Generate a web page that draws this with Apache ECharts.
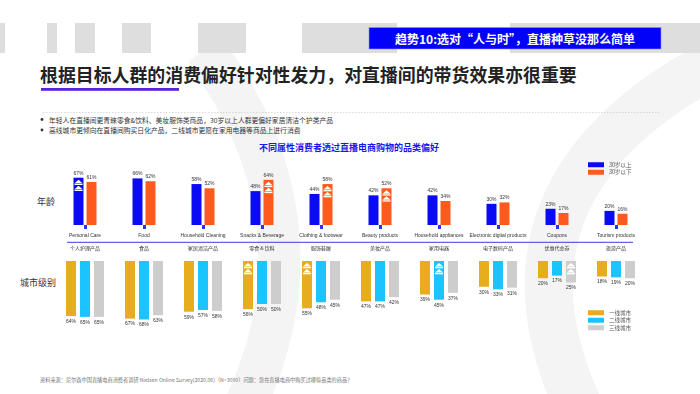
<!DOCTYPE html>
<html><head><meta charset="utf-8">
<script src="https://cdn.jsdelivr.net/npm/echarts@6/dist/echarts.min.js"></script>
<style>
html,body{margin:0;padding:0;width:700px;height:394px;overflow:hidden;background:#fff;font-family:"Noto Sans CJK SC","Noto Sans",sans-serif;}
#bg{position:absolute;left:0;top:0;}
#chart{position:absolute;left:0;top:0;width:700px;height:394px;}
.t{position:absolute;white-space:nowrap;}
</style></head><body>
<svg id="bg" width="700" height="394" xmlns="http://www.w3.org/2000/svg">
  <path d="M 205 50 Q 335 230 238 420" stroke="#f4f4f4" stroke-width="42" fill="none"/>
  <path d="M 720 60 Q 470 190 585 420" stroke="#f4f4f4" stroke-width="48" fill="none"/>
  <g fill="#dedede">
    <rect x="0" y="23" width="5" height="30"/>
    <rect x="47" y="23" width="10" height="30"/>
    <rect x="75" y="23" width="20" height="30"/>
    <rect x="122" y="23" width="29" height="30"/>
    <rect x="198" y="23" width="48" height="30"/>
    <rect x="302" y="23" width="95" height="30"/>
    <rect x="510" y="23" width="190" height="30"/>
  </g>
  <rect x="369" y="27.5" width="292" height="21.5" fill="#0202f8" stroke="#8f8ff0" stroke-width="0.6"/>
  <rect x="41" y="88" width="138" height="2.8" fill="#5a22e2"/>
  <line x1="43" y1="112.5" x2="660" y2="112.5" stroke="#cfcfcf" stroke-width="0.8" stroke-dasharray="1.5,1.5"/>
  <circle cx="42" cy="119.5" r="1.4" fill="#333"/>
  <circle cx="42" cy="130" r="1.4" fill="#333"/>
  <line x1="67" y1="242.3" x2="633" y2="242.3" stroke="#3a3af2" stroke-width="1"/>
</svg>
<div class="t" style="left:369px;top:27.5px;width:292px;height:21.5px;line-height:21.5px;text-align:center;color:#fff;font-weight:bold;font-size:12px;">趋势10:选对“人与时”，直播种草没那么简单</div>
<div class="t" style="left:40px;top:63.5px;font-size:17.9px;line-height:20px;font-weight:bold;color:#222;">根据目标人群的消费偏好针对性发力，对直播间的带货效果亦很重要</div>
<div class="t" style="left:49px;top:115.5px;font-size:6.8px;line-height:8px;color:#333;">年轻人在直播间更青睐零食&amp;饮料、美妆服饰类商品，30岁以上人群更偏好家居清洁个护类产品</div>
<div class="t" style="left:49px;top:126px;font-size:6.8px;line-height:8px;color:#333;">高线城市更倾向在直播间购买日化产品，二线城市更愿在家用电器等商品上进行消费</div>
<div class="t" style="left:250px;top:143px;width:198px;text-align:center;font-size:9px;line-height:10px;font-weight:bold;color:#1717f2;">不同属性消费者透过直播电商购物的品类偏好</div>
<div class="t" style="left:37px;top:196.5px;font-size:9px;line-height:10px;color:#333;">年龄</div>
<div class="t" style="left:20px;top:278px;font-size:9px;line-height:10px;color:#333;">城市级别</div>
<div class="t" style="left:40px;top:377px;font-size:5.2px;line-height:6px;color:#777;">资料来源：尼尔森中国直播电商消费者调研 Nielsen Online Survey(2020.06)（N=3000）问题：您在直播电商中购买过哪些品类的商品？</div>
<div id="chart"></div>
<script>
const categoriesEn = ['Personal Care','Food','Household Cleaning','Snacks & Beverage','Clothing & footwear','Beauty products','Household appliances','Electronic digital products','Coupons','Tourism products'];
const categoriesZh = ['个人护理产品','食品','家居清洁产品','零食 & 饮料','服饰鞋履','美妆产品','家用电器','电子数码产品','优惠代金券','旅游产品'];
const ageNames = ['30岁以上','30岁以下'];
const ageOver30 = [67,66,58,48,44,42,42,30,23,20];
const ageUnder30 = [61,62,52,64,58,52,34,32,17,16];
const tierNames = ['一线城市','二线城市','三线城市'];
const tier1 = [64,67,59,56,55,47,39,30,20,18];
const tier2 = [65,68,57,50,48,47,45,33,17,19];
const tier3 = [65,63,58,50,45,42,37,31,25,20];
// highlighted bars: [categoryIndex, seriesIndex]
const hlAge = [[0,0],[3,1],[4,1],[5,1]];
const hlTier = [[3,0],[4,0],[6,1],[8,2]];

const ageSeries = [ageOver30, ageUnder30];
const tierSeries = [tier1, tier2, tier3];
const ageColors = ['#0a0af5','#ff5a1e'];
const tierColors = ['#e7ad1f','#1cc4ff','#cdcdcd'];
const BW = 10;

function iconRender(n, gapPx, fromZero) {
  return function (params, api) {
    const cat = api.value(0), val = api.value(1), s = api.value(2);
    const p = api.coord([cat, fromZero ? 0 : val]);
    const cx = p[0] + (s - (n - 1) / 2) * (BW + gapPx);
    const y0 = p[1] + 2;
    const children = [];
    [0, 6].forEach(function (dy) {
      const y = y0 + dy;
      children.push({type: 'polygon', shape: {points: [[cx - 4, y + 3.5], [cx, y], [cx + 4, y + 3.5]]}, style: {fill: '#fff'}});
      children.push({type: 'rect', shape: {x: cx - 4, y: y + 4, width: 8, height: 1.3}, style: {fill: '#fff'}});
    });
    return {type: 'group', children: children};
  };
}

const labelFont = {fontSize: 5, color: '#333', fontFamily: 'Liberation Sans, Arial, sans-serif'};

const series = [];
ageSeries.forEach(function (d, i) {
  series.push({
    type: 'bar', name: ageNames[i], xAxisIndex: 0, yAxisIndex: 0, data: d,
    barWidth: BW, barGap: '30%', itemStyle: {color: ageColors[i]},
    label: Object.assign({show: true, position: 'top', distance: 2, formatter: '{c}%'}, labelFont)
  });
});
tierSeries.forEach(function (d, i) {
  series.push({
    type: 'bar', name: tierNames[i], xAxisIndex: 1, yAxisIndex: 1, data: d,
    barWidth: BW, barGap: '40%', itemStyle: {color: tierColors[i]},
    label: Object.assign({show: true, position: 'bottom', distance: 3, formatter: '{c}%'}, labelFont)
  });
});
series.push({
  type: 'custom', xAxisIndex: 0, yAxisIndex: 0, z: 5, silent: true,
  renderItem: iconRender(2, 3, false),
  data: hlAge.map(function (h) { return [h[0], ageSeries[h[1]][h[0]], h[1]]; })
});
series.push({
  type: 'custom', xAxisIndex: 1, yAxisIndex: 1, z: 5, silent: true,
  renderItem: iconRender(3, 4, true),
  data: hlTier.map(function (h) { return [h[0], tierSeries[h[1]][h[0]], h[1]]; })
});

const legendCommon = {
  orient: 'vertical', left: 583, itemWidth: 16, itemHeight: 5, itemGap: 2, icon: 'rect',
  textStyle: {fontSize: 5.5, color: '#555'}, selectedMode: false
};

const chart = echarts.init(document.getElementById('chart'), null, {renderer: 'canvas'});
chart.setOption({
  animation: false,
  backgroundColor: 'transparent',
  textStyle: {fontFamily: 'Noto Sans CJK SC, sans-serif'},
  legend: [
    Object.assign({top: 157, data: ageNames}, legendCommon),
    Object.assign({top: 305, data: tierNames}, legendCommon)
  ],
  grid: [
    {left: 55.5, width: 590, top: 154.4, height: 70.6},
    {left: 55.5, width: 590, top: 261, height: 86}
  ],
  xAxis: [
    {
      type: 'category', gridIndex: 0, data: categoriesEn, position: 'bottom', offset: 15,
      axisLine: {show: false},
      axisTick: {show: true, alignWithLabel: true, length: 4, lineStyle: {color: '#2f2ff5', width: 3}},
      axisLabel: Object.assign({inside: true, margin: 2, interval: 0}, labelFont)
    },
    {
      type: 'category', gridIndex: 1, data: categoriesZh, position: 'top', offset: 19,
      axisLine: {show: false},
      axisTick: {show: false},
      axisLabel: {inside: true, margin: 4, interval: 0, fontSize: 5, color: '#333'}
    }
  ],
  yAxis: [
    {type: 'value', gridIndex: 0, min: 0, max: 100, show: false},
    {type: 'value', gridIndex: 1, min: 0, max: 100, inverse: true, show: false}
  ],
  series: series
});
</script>
</body></html>
